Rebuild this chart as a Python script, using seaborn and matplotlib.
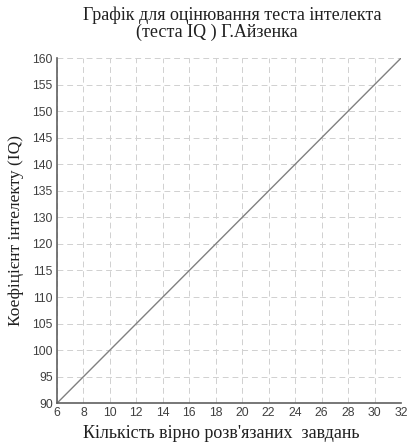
import matplotlib
matplotlib.use("Agg")
import matplotlib.pyplot as plt
import numpy as np
import pandas as pd
import seaborn as sns

# line endpoints
tasks = [6, 32]
iq = [90, 160]
x_ticks = list(range(6, 33, 2))
# the original axis skips 125: 14 labels over 13 equal steps
y_labels = ["90", "95", "100", "105", "110", "115", "120",
            "130", "135", "140", "145", "150", "155", "160"]

sns.set_style("white")
plt.rcParams["font.family"] = ["Liberation Sans", "DejaVu Sans"]

fig = plt.figure(figsize=(4.10, 4.47), dpi=100)
ax = fig.add_axes([0.139, 0.098, 0.839, 0.772])

df = pd.DataFrame({"tasks": tasks, "iq": iq})
sns.lineplot(data=df, x="tasks", y="iq", color="#808080", linewidth=1.0, ax=ax)

ax.set_xlim(6, 32)
ax.set_ylim(90, 160)
ax.set_xticks(x_ticks)
ax.set_yticks(np.linspace(90, 160, len(y_labels)))
ax.set_yticklabels(y_labels)
ax.grid(True, linestyle=(0, (6, 4)), color="#d0d0d0", linewidth=0.7)
ax.tick_params(axis="both", labelsize=8.8, colors="#404040", length=0, pad=3)

for side in ["top", "right"]:
    ax.spines[side].set_visible(False)
for side in ["left", "bottom"]:
    ax.spines[side].set_color("#606060")
    ax.spines[side].set_linewidth(1.2)

serif = ["Liberation Serif", "DejaVu Serif"]
ax.set_xlabel("")
ax.set_ylabel("Коефіцієнт інтелекту (IQ)", fontsize=12.5,
              family=serif, color="#202020", labelpad=6)
fig.text(0.539, 0.031, "Кількість вірно розв'язаних  завдань",
         ha="center", va="center", fontsize=13, family=serif, color="#202020")
fig.text(0.566, 0.966, "Графік для оцінювання теста інтелекта",
         ha="center", va="center", fontsize=13, family=serif, color="#202020")
fig.text(0.53, 0.928, "(теста IQ ) Г.Айзенка",
         ha="center", va="center", fontsize=13, family=serif, color="#202020")

fig.savefig("out.png", dpi=100)
